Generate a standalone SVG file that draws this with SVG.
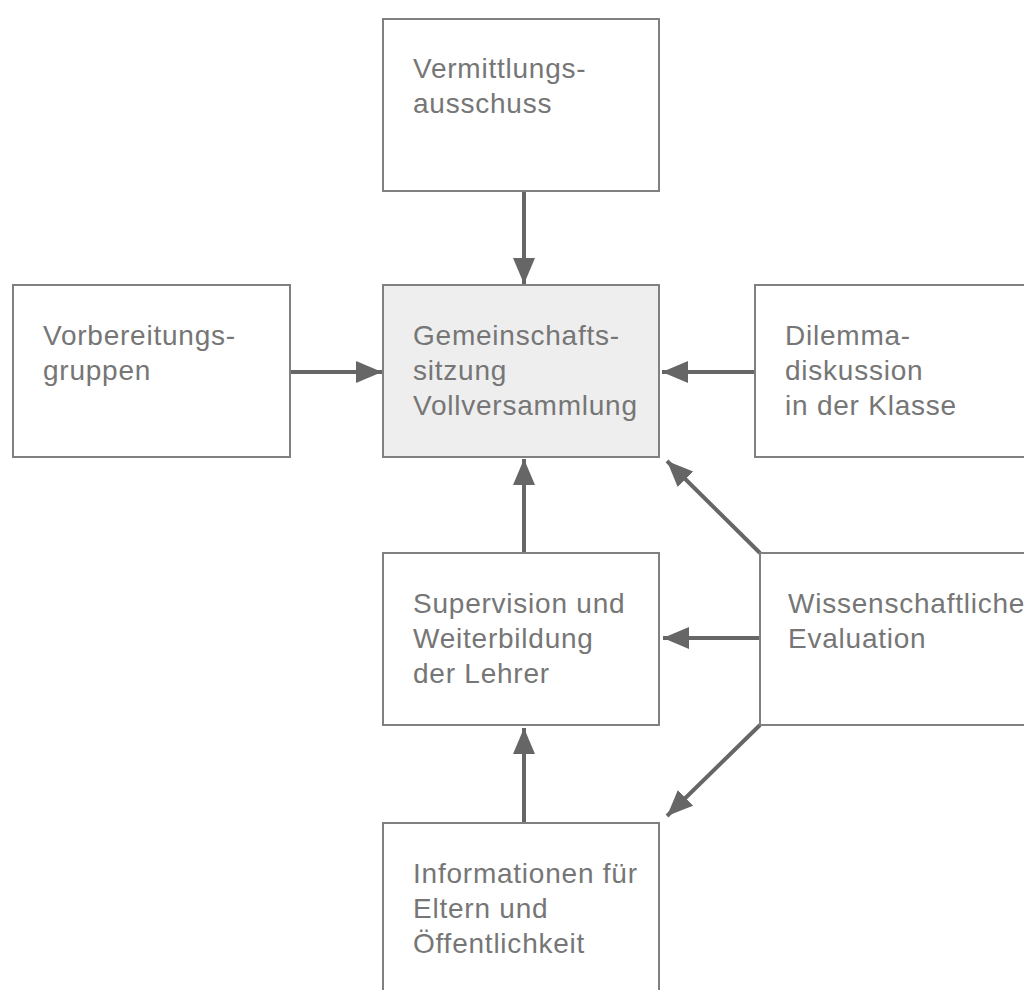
<svg xmlns="http://www.w3.org/2000/svg" width="1024" height="990" viewBox="0 0 1024 990">
<style>
.box{fill:#ffffff;stroke:#808080;stroke-width:2}
.center{fill:#eeeeee}
.t{font-family:"Liberation Sans",Arial,sans-serif;font-size:28px;letter-spacing:0.77px;fill:#767676}
.c{stroke:#666666;stroke-width:4;fill:none;marker-end:url(#ah)}
</style>
<defs>
<marker id="ah" markerUnits="userSpaceOnUse" markerWidth="28" markerHeight="24" refX="26" refY="11" orient="auto">
<path d="M0,0 L26,11 L0,22 Z" fill="#666666"/>
</marker>
</defs>
<g id="connectors">
<line class="c" x1="524" y1="191" x2="524" y2="284"/>
<line class="c" x1="290" y1="372" x2="382" y2="372"/>
<line class="c" x1="755" y1="372" x2="662" y2="372"/>
<line class="c" x1="524" y1="553" x2="524" y2="459"/>
<line class="c" x1="760" y1="553" x2="667" y2="461"/>
<line class="c" x1="760" y1="638" x2="663" y2="638"/>
<line class="c" x1="760" y1="725" x2="667" y2="816"/>
<line class="c" x1="524" y1="823" x2="524" y2="728"/>
</g>
<g id="n-vermittlung">
<rect class="box" x="383" y="19" width="276" height="172"/>
<text class="t" x="413" y="78">Vermittlungs-</text>
<text class="t" x="413" y="113">ausschuss</text>
</g>
<g id="n-vorbereitung">
<rect class="box" x="13" y="285" width="277" height="172"/>
<text class="t" x="43" y="345">Vorbereitungs-</text>
<text class="t" x="43" y="380">gruppen</text>
</g>
<g id="n-gemeinschaft">
<rect class="box center" x="383" y="285" width="276" height="172"/>
<text class="t" x="413" y="345">Gemeinschafts-</text>
<text class="t" x="413" y="380">sitzung</text>
<text class="t" x="413" y="415">Vollversammlung</text>
</g>
<g id="n-dilemma">
<rect class="box" x="755" y="285" width="290" height="172"/>
<text class="t" x="785" y="345">Dilemma-</text>
<text class="t" x="785" y="380">diskussion</text>
<text class="t" x="785" y="415">in der Klasse</text>
</g>
<g id="n-supervision">
<rect class="box" x="383" y="553" width="276" height="172"/>
<text class="t" x="413" y="613">Supervision und</text>
<text class="t" x="413" y="648">Weiterbildung</text>
<text class="t" x="413" y="683">der Lehrer</text>
</g>
<g id="n-evaluation">
<rect class="box" x="760" y="553" width="290" height="172"/>
<text class="t" x="788" y="613">Wissenschaftliche</text>
<text class="t" x="788" y="648">Evaluation</text>
</g>
<g id="n-informationen">
<rect class="box" x="383" y="823" width="276" height="190"/>
<text class="t" x="413" y="883">Informationen für</text>
<text class="t" x="413" y="918">Eltern und</text>
<text class="t" x="413" y="953">Öffentlichkeit</text>
</g>
</svg>
